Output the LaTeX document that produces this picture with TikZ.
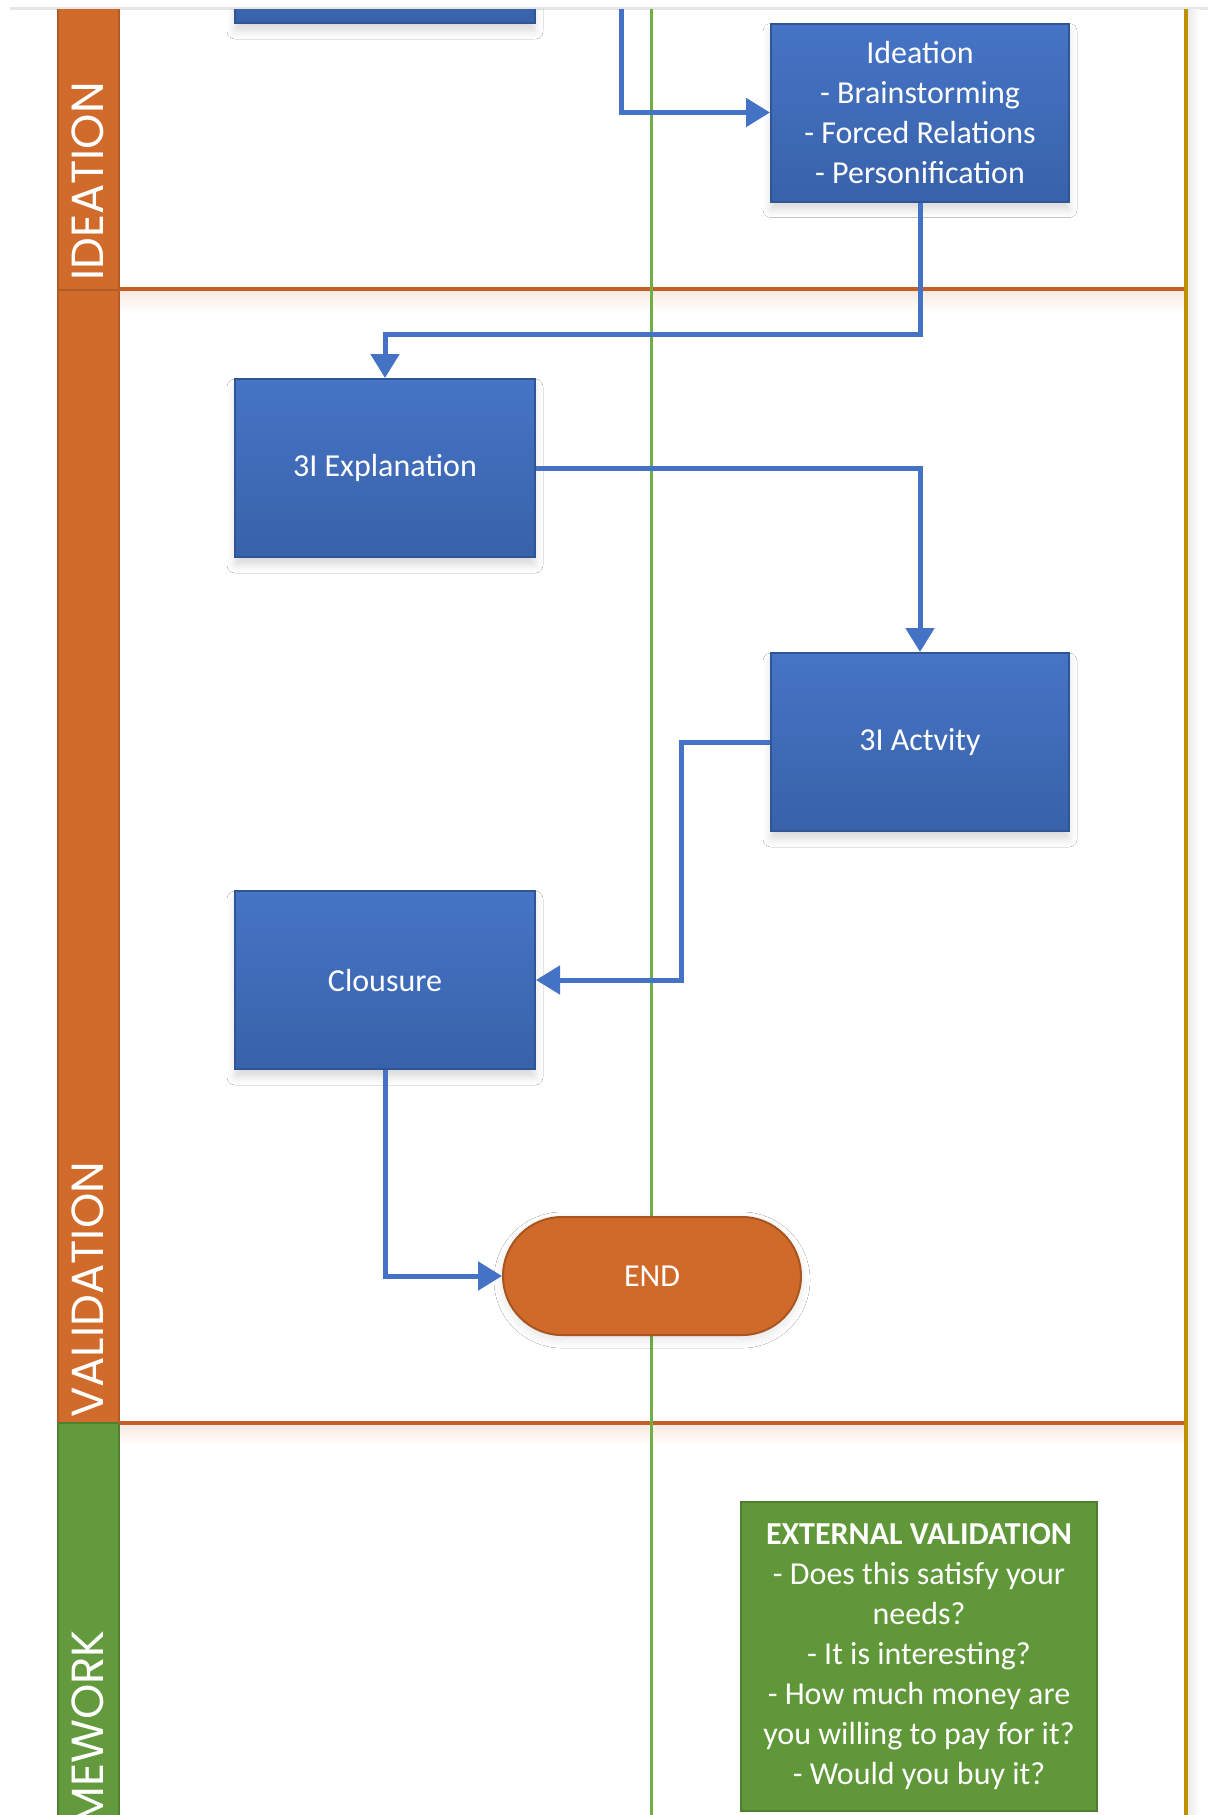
\documentclass[tikz,border=0pt]{standalone}
\usepackage{fontspec}
\setmainfont{Carlito}
\newfontfamily\lanefont{Poppins}
\usetikzlibrary{arrows.meta,shapes.misc,shadows.blur}
\definecolor{bluetop}{HTML}{4674C6}
\definecolor{bluebot}{HTML}{3862A9}
\definecolor{blueedge}{HTML}{2F5597}
\definecolor{connblue}{HTML}{4472C4}
\definecolor{laneorange}{HTML}{D06B2B}
\definecolor{laneorangedk}{HTML}{B25B24}
\definecolor{sepcol}{HTML}{C45F28}
\definecolor{lanegreen}{HTML}{629A3D}
\definecolor{lanegreendk}{HTML}{507F2F}
\definecolor{vgreen}{HTML}{70AD47}
\definecolor{gold}{HTML}{BF9000}
\definecolor{endorange}{HTML}{D06A2A}
\definecolor{endedge}{HTML}{A9551F}
\definecolor{extgreen}{HTML}{5F9739}
\definecolor{extedge}{HTML}{4E7D2E}
\tikzset{
  procbox/.style={rectangle, draw=blueedge, line width=2pt, top color=bluetop, bottom color=bluebot,
    minimum width=298pt, minimum height=178pt, inner sep=0pt, text=white, align=center,
    font=\fontsize{32}{40}\selectfont,
    blur shadow={shadow xshift=0pt, shadow yshift=-8pt, shadow blur radius=8pt, shadow opacity=15}},
  endbox/.style={rounded rectangle, draw=endedge, line width=2pt, fill=endorange,
    minimum width=298pt, minimum height=118pt, inner sep=0pt, text=white,
    font=\fontsize{32}{40}\selectfont,
    blur shadow={shadow xshift=0pt, shadow yshift=-4pt, shadow blur radius=9pt, shadow opacity=12}},
  extbox/.style={rectangle, draw=extedge, line width=2pt, fill=extgreen,
    minimum width=356pt, minimum height=309pt, inner sep=0pt, text=white, align=center,
    font=\fontsize{32}{40}\selectfont},
  conn/.style={draw=connblue, line width=5pt, -{Triangle[length=24pt,width=28pt]}},
  lanelabel/.style={rotate=90, inner sep=0pt, text=white, font=\lanefont\fontsize{45}{45}\selectfont},
}
\begin{document}
\begin{tikzpicture}[x=1pt,y=-1pt]
\useasboundingbox (0,0) rectangle (1208,1815);
\fill[white] (0,0) rectangle (1208,1815);
\draw[black!10, line width=3pt] (10,8) -- (1208,8);
\begin{scope}
\clip (0,9) rectangle (1208,1815);
% lane glows
\shade[top color=laneorange!14, bottom color=white] (119,291) rectangle (1186,312);
\shade[top color=laneorange!14, bottom color=white] (119,1425) rectangle (1186,1446);
\shade[left color=black!8, right color=white] (1188,9) rectangle (1200,1815);
% lane bar
\filldraw[fill=laneorange, draw=laneorangedk, line width=2pt] (58,5) rectangle (119,1423);
\filldraw[fill=lanegreen, draw=lanegreendk, line width=2pt] (58,1423) rectangle (119,1825);
\draw[laneorangedk, line width=2pt] (58,290) -- (119,290);
% separators and verticals
\draw[sepcol, line width=4pt] (119,289) -- (1186,289);
\draw[sepcol, line width=4pt] (119,1423) -- (1186,1423);
\draw[vgreen, line width=3pt] (651,9) -- (651,1815);
\draw[gold, line width=4pt] (1186,9) -- (1186,1815);
% partial box at top
\node[procbox, minimum width=300pt, minimum height=100pt] (prev) at (385,-27) {};
% lane labels
\node[lanelabel, anchor=west] (labI) at (88,281) {IDEATION};
\node[lanelabel, anchor=west] (labV) at (88,1418) {VALIDATION};
\node[lanelabel, anchor=east] (labH) at (88,1630) {MEWORK};
\end{scope}
% process nodes
\node[procbox] (ideation) at (920,112.5) {Ideation\\- Brainstorming\\- Forced Relations\\- Personification};
\node[procbox, minimum width=300pt] (expl) at (385,468) {3I Explanation};
\node[procbox] (act) at (920,742) {3I Actvity};
\node[procbox, minimum width=300pt] (clos) at (385,980) {Clousure};
\node[endbox] (end) at (652,1276) {END};
\node[extbox] (ext) at (919,1656.5) {\textbf{EXTERNAL VALIDATION}\\- Does this satisfy your\\needs?\\- It is interesting?\\- How much money are\\you willing to pay for it?\\- Would you buy it?};
% connectors
\coordinate (topin) at (621,9);
\draw[conn] (topin) |- (ideation.west);
\draw[conn] (ideation.south) -- ++(0,132) -| (expl.north);
\draw[conn] (expl.east) -| (act.north);
\draw[conn] (act.west) -- ++(-89,0) |- (clos.east);
\draw[conn] (clos.south) |- (end.west);
\end{tikzpicture}
\end{document}
